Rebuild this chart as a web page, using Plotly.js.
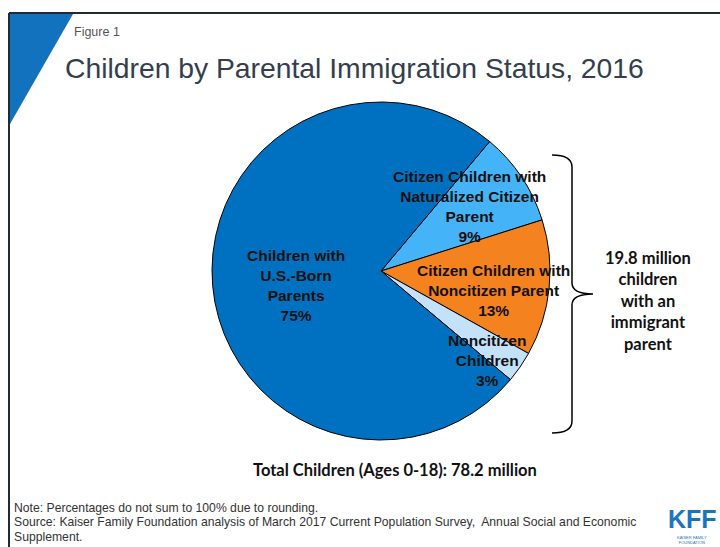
<!DOCTYPE html>
<html>
<head>
<meta charset="utf-8">
<script src="https://cdn.plot.ly/plotly-3.0.1.min.js"></script>
<style>
html,body{margin:0;padding:0;background:#fff;}
#chart{width:720px;height:547px;}
</style>
</head>
<body>
<div id="chart"></div>
<script>
// ---- data ----
var categories = [
  "Citizen Children with<br>Naturalized Citizen<br>Parent",
  "Citizen Children with<br>Noncitizen Parent",
  "Noncitizen<br>Children",
  "Children with<br>U.S.-Born<br>Parents"
];
var shares = [9, 13, 3, 75];
var sliceColors = ["#45B3F7", "#F4821F", "#C3E2F9", "#0071C1"];
var titleText = "Children by Parental Immigration Status, 2016";
var figureLabel = "Figure 1";
var totalText = "Total Children (Ages 0-18): 78.2 million";
var bracketText = "19.8 million<br>children<br>with an<br>immigrant<br>parent";
var noteLines = [
  "Note: Percentages do not sum to 100% due to rounding.",
  "Source: Kaiser Family Foundation analysis of March 2017 Current Population Survey,  Annual Social and Economic",
  "Supplement."
];

// ---- helpers (pixel -> paper) ----
var W = 720, H = 547;
function px(x){ return x / W; }
function py(y){ return 1 - y / H; }

var cx = 381, cy = 271, R = 169;

var trace = {
  type: "pie",
  values: shares,
  labels: categories,
  sort: false,
  direction: "clockwise",
  rotation: 40,
  textinfo: "none",
  hoverinfo: "label+percent",
  marker: { colors: sliceColors, line: { color: "#000000", width: 1 } },
  domain: { x: [px(cx - R), px(cx + R)], y: [py(cy + R), py(cy - R)] },
  showlegend: false
};

// label positions inside slices (pixel coords)
var labelPos = [[469, 206], [493, 290], [487, 360], [296, 285]];
var annotations = [];
for (var i = 0; i < categories.length; i++) {
  annotations.push({
    xref: "paper", yref: "paper",
    x: px(labelPos[i][0]), y: py(labelPos[i][1]),
    xanchor: "center", yanchor: "middle",
    text: "<b>" + categories[i] + "<br>" + shares[i] + "%</b>",
    showarrow: false,
    font: { family: "Liberation Sans, Arial, sans-serif", size: 15.5, color: "#111" },
    align: "center"
  });
}
annotations.push({
  xref: "paper", yref: "paper", x: px(72), y: py(32),
  xanchor: "left", yanchor: "middle", text: figureLabel, showarrow: false,
  font: { family: "Liberation Sans, Arial, sans-serif", size: 12.5, color: "#555" }
});
annotations.push({
  xref: "paper", yref: "paper", x: px(648), y: py(301),
  xanchor: "center", yanchor: "middle", text: "<b>" + bracketText + "</b>", showarrow: false,
  font: { family: "Lato, Carlito, sans-serif", size: 16.5, color: "#111" }, align: "center"
});
annotations.push({
  xref: "paper", yref: "paper", x: px(395), y: py(470),
  xanchor: "center", yanchor: "middle", text: "<b>" + totalText + "</b>", showarrow: false,
  font: { family: "Lato, Carlito, sans-serif", size: 16.5, color: "#111" }
});
var noteY = [508, 522, 537];
for (var j = 0; j < noteLines.length; j++) {
  annotations.push({
    xref: "paper", yref: "paper", x: px(12), y: py(noteY[j]),
    xanchor: "left", yanchor: "middle", text: noteLines[j], showarrow: false,
    font: { family: "Liberation Sans, Arial, sans-serif", size: 12.2, color: "#333" }
  });
}
// KFF logo as text
annotations.push({
  xref: "paper", yref: "paper", x: px(692), y: py(519),
  xanchor: "center", yanchor: "middle", text: "<b>KFF</b>", showarrow: false,
  font: { family: "Liberation Sans Narrow, Liberation Sans, Arial, sans-serif", size: 25, color: "#1B75BC" }
});
annotations.push({
  xref: "paper", yref: "paper", x: px(692), y: py(540),
  xanchor: "center", yanchor: "middle", text: "KAISER FAMILY<br>FOUNDATION", showarrow: false,
  font: { family: "Liberation Sans, Arial, sans-serif", size: 4, color: "#1B75BC" }
});

function P(x, y){ return px(x).toFixed(5) + "," + py(y).toFixed(5); }
var bracePath = "M" + P(552,155) + " Q" + P(572,155) + " " + P(572,167) +
  " L" + P(572,283) + " Q" + P(572,294) + " " + P(593,294) +
  " Q" + P(572,294) + " " + P(572,305) +
  " L" + P(572,421) + " Q" + P(572,433) + " " + P(552,433);

var shapes = [
  { type: "path", xref: "paper", yref: "paper",
    path: "M" + P(10,14) + " L" + P(73,14) + " L" + P(10,124) + " Z",
    fillcolor: "#1272BD", line: { width: 0 } },
  { type: "line", xref: "paper", yref: "paper", x0: px(9), x1: px(720), y0: py(13), y1: py(13),
    line: { color: "#1E2B3A", width: 2 } },
  { type: "line", xref: "paper", yref: "paper", x0: px(9), x1: px(9), y0: py(13), y1: py(547),
    line: { color: "#1E2B3A", width: 2 } },
  { type: "path", xref: "paper", yref: "paper", path: bracePath,
    line: { color: "#000", width: 1.5 } }
];

var layout = {
  width: W, height: H,
  margin: { l: 0, r: 0, t: 0, b: 0 },
  paper_bgcolor: "#ffffff",
  title: {
    text: titleText, x: px(65), xanchor: "left", xref: "paper",
    y: py(68), yanchor: "middle", yref: "paper",
    font: { family: "Liberation Sans, Arial, sans-serif", size: 28.3, color: "#333E4E" }
  },
  annotations: annotations,
  shapes: shapes,
  showlegend: false
};

Plotly.newPlot("chart", [trace], layout, { displayModeBar: false, staticPlot: true });
</script>
</body>
</html>
